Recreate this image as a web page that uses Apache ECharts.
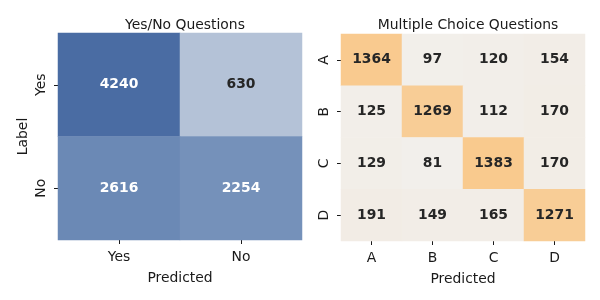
<!DOCTYPE html>
<html><head><meta charset="utf-8">
<script src="https://cdn.jsdelivr.net/npm/echarts@6/dist/echarts.min.js"></script>
<style>html,body{margin:0;padding:0;background:#fff}#c{width:600px;height:300px}</style>
</head><body><div id="c"></div>
<script>
const ynCats = ['Yes', 'No'];
const ynValues = [[4240, 630], [2616, 2254]];
const mcCats = ['A', 'B', 'C', 'D'];
const mcValues = [
  [1364, 97, 120, 154],
  [125, 1269, 112, 170],
  [129, 81, 1383, 170],
  [191, 149, 165, 1271]
];
const ynTitle = 'Yes/No Questions';
const mcTitle = 'Multiple Choice Questions';
const xName = 'Predicted';
const yName = 'Label';

function toData(vals, whiteAbove) {
  const out = [];
  vals.forEach((row, r) => row.forEach((v, c) => {
    out.push({ value: [c, r, v], label: { color: v >= whiteAbove ? '#ffffff' : '#262626' } });
  }));
  return out;
}
const FONT = 'DejaVu Sans';
const FS = 13.9;
const TXT = '#1a1a1a';
function xAxis(gi, cats) {
  return {
    type: 'category', gridIndex: gi, data: cats, position: 'bottom',
    name: xName, nameLocation: 'middle', nameGap: 31,
    nameTextStyle: { fontFamily: FONT, fontSize: FS, color: TXT },
    axisLine: { show: false },
    axisTick: { show: true, alignWithLabel: true, length: 4, lineStyle: { color: TXT } },
    axisLabel: { fontFamily: FONT, fontSize: FS, color: TXT, margin: 10 },
    splitLine: { show: false }, splitArea: { show: false }
  };
}
function yAxis(gi, cats, withName) {
  return {
    type: 'category', gridIndex: gi, data: cats, inverse: true,
    name: withName ? yName : '', nameLocation: 'middle', nameGap: 28,
    nameTextStyle: { fontFamily: FONT, fontSize: FS, color: TXT },
    axisLine: { show: false },
    axisTick: { show: true, alignWithLabel: true, length: 4, lineStyle: { color: TXT } },
    axisLabel: { fontFamily: FONT, fontSize: FS, color: TXT, rotate: 90, margin: 10 },
    splitLine: { show: false }, splitArea: { show: false }
  };
}
const chart = echarts.init(document.getElementById('c'), null, { renderer: 'canvas' });
chart.setOption({
  animation: false,
  backgroundColor: '#ffffff',
  title: [
    { text: ynTitle, left: 180, top: 13, textAlign: 'center', textStyle: { fontFamily: FONT, fontSize: FS, fontWeight: 'normal', color: TXT } },
    { text: mcTitle, left: 463, top: 13, textAlign: 'center', textStyle: { fontFamily: FONT, fontSize: FS, fontWeight: 'normal', color: TXT } }
  ],
  grid: [
    { left: 58, top: 33, width: 244, height: 207 },
    { left: 341, top: 34, width: 244, height: 207 }
  ],
  xAxis: [xAxis(0, ynCats), xAxis(1, mcCats)],
  yAxis: [yAxis(0, ynCats, true), yAxis(1, mcCats, false)],
  visualMap: [
    { show: false, seriesIndex: 0, min: 630, max: 4240, dimension: 2,
      inRange: { color: ['#b4c2d7', '#8ea6c6', '#6f8cb7', '#5d7cad', '#4a6ca3'] } },
    { show: false, seriesIndex: 1, min: 81, max: 1383, dimension: 2,
      inRange: { color: ['#f2efeb', '#f3e6da', '#f5dcbd', '#f7d2a5', '#f9ca8e'] } }
  ],
  series: [
    { type: 'heatmap', xAxisIndex: 0, yAxisIndex: 0, data: toData(ynValues, 2000),
      label: { show: true, fontFamily: FONT, fontSize: FS, fontWeight: 'bold' },
      itemStyle: { borderWidth: 0 }, emphasis: { disabled: true } },
    { type: 'heatmap', xAxisIndex: 1, yAxisIndex: 1, data: toData(mcValues, 100000),
      label: { show: true, fontFamily: FONT, fontSize: FS, fontWeight: 'bold' },
      itemStyle: { borderWidth: 0 }, emphasis: { disabled: true } }
  ]
});
</script></body></html>
